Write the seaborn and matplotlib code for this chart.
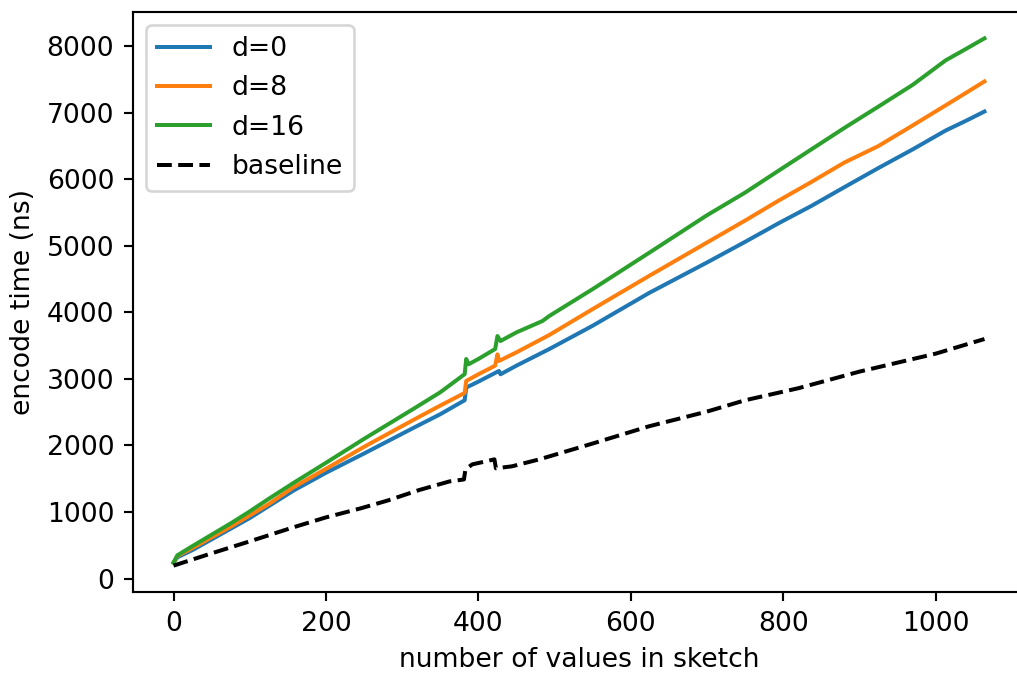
import matplotlib
matplotlib.use("Agg")
import matplotlib.pyplot as plt
import seaborn as sns
import pandas as pd

# --- data ---
x_d0 = [0, 5, 25, 50, 75, 100, 125, 157, 200, 250, 314, 350, 382, 384, 400, 427, 429,
        450, 493, 550, 624, 700, 750, 794, 837, 880, 925, 970, 1013, 1040, 1064]
y_d0 = [240, 320, 430, 590, 750, 910, 1090, 1320, 1590, 1880, 2260, 2470, 2680, 2870,
        2960, 3120, 3070, 3200, 3449, 3800, 4292, 4750, 5060, 5340, 5600, 5880, 6170,
        6450, 6732, 6880, 7018]

x_d8 = [0, 5, 25, 50, 75, 100, 125, 157, 200, 250, 314, 350, 382, 384, 400, 422, 425,
        427, 450, 493, 550, 624, 700, 750, 794, 837, 880, 925, 970, 1013, 1040, 1064]
y_d8 = [240, 340, 460, 620, 780, 950, 1120, 1370, 1650, 1980, 2380, 2600, 2790, 2970,
        3070, 3200, 3370, 3270, 3400, 3660, 4050, 4548, 5050, 5380, 5680, 5960, 6250,
        6500, 6810, 7110, 7300, 7470]

x_d16 = [0, 5, 25, 50, 75, 100, 125, 157, 200, 250, 314, 350, 382, 384, 387, 400, 422,
         425, 429, 450, 484, 493, 550, 624, 700, 750, 794, 837, 880, 925, 970, 1013,
         1040, 1064]
y_d16 = [240, 350, 490, 660, 830, 1010, 1200, 1435, 1740, 2100, 2545, 2800, 3072, 3300,
         3220, 3300, 3450, 3645, 3570, 3700, 3870, 3946, 4350, 4895, 5460, 5800, 6130,
         6450, 6770, 7093, 7420, 7786, 7960, 8117]

x_base = [0, 50, 100, 157, 200, 245, 280, 322, 362, 381, 383, 392, 410, 421, 423, 444,
          480, 502, 550, 624, 700, 750, 820, 900, 1000, 1064]
y_base = [195, 380, 560, 770, 920, 1054, 1170, 1330, 1460, 1490, 1640, 1717, 1762,
          1792, 1657, 1687, 1792, 1867, 2030, 2289, 2510, 2680, 2861, 3110, 3380, 3600]

labels = ["d=0", "d=8", "d=16", "baseline"]

series = [(x_d0, y_d0), (x_d8, y_d8), (x_d16, y_d16), (x_base, y_base)]
frames = []
for lab, (xs, ys) in zip(labels, series):
    frames.append(pd.DataFrame({"n": xs, "t": ys, "series": lab}))
df = pd.concat(frames, ignore_index=True)

colors = {"d=0": "#1f77b4", "d=8": "#ff7f0e", "d=16": "#2ca02c", "baseline": "black"}
styles = {"d=0": "-", "d=8": "-", "d=16": "-", "baseline": "--"}

DPI = 192
fig = plt.figure(figsize=(1017 / DPI, 675 / DPI), dpi=DPI)
ax = fig.add_axes([133 / 1017, 83 / 675, 892 / 1017, 580 / 675])

for lab in labels:
    sub = df[df["series"] == lab]
    sns.lineplot(data=sub, x="n", y="t", ax=ax, color=colors[lab],
                 linestyle=styles[lab], linewidth=1.5, label=lab,
                 estimator=None, sort=False)

ax.set_xlabel("number of values in sketch")
ax.set_ylabel("encode time (ns)")
ax.set_xticks([0, 200, 400, 600, 800, 1000])
ax.set_yticks(range(0, 8001, 1000))
ax.legend(loc="upper left")

fig.savefig("out.png", dpi=DPI)
